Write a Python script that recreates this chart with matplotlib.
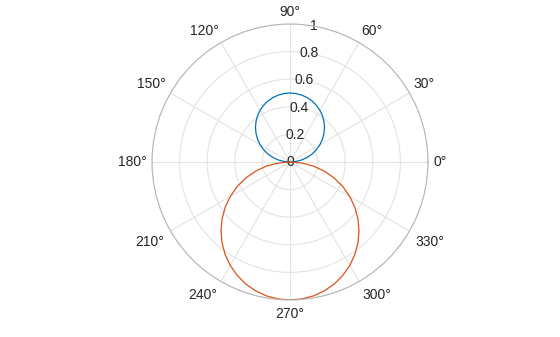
import numpy as np
import matplotlib
matplotlib.use("Agg")
import matplotlib.pyplot as plt

plt.rcParams['font.family'] = ['Liberation Sans', 'DejaVu Sans']

# sample angles in degrees, 5 degree steps (upper half and lower half)
theta_upper = [0, 5, 10, 15, 20, 25, 30, 35, 40, 45, 50, 55, 60, 65, 70, 75, 80, 85, 90,
               95, 100, 105, 110, 115, 120, 125, 130, 135, 140, 145, 150, 155, 160, 165,
               170, 175, 180]
r_upper = [0, 0.044, 0.087, 0.129, 0.171, 0.211, 0.25, 0.287, 0.321, 0.354, 0.383,
           0.410, 0.433, 0.453, 0.470, 0.483, 0.492, 0.498, 0.5,
           0.498, 0.492, 0.483, 0.470, 0.453, 0.433, 0.410, 0.383, 0.354, 0.321,
           0.287, 0.25, 0.211, 0.171, 0.129, 0.087, 0.044, 0]

theta_lower = [180, 185, 190, 195, 200, 205, 210, 215, 220, 225, 230, 235, 240, 245,
               250, 255, 260, 265, 270, 275, 280, 285, 290, 295, 300, 305, 310, 315,
               320, 325, 330, 335, 340, 345, 350, 355, 360]
r_lower = [0, 0.087, 0.174, 0.259, 0.342, 0.423, 0.5, 0.574, 0.643, 0.707, 0.766,
           0.819, 0.866, 0.906, 0.940, 0.966, 0.985, 0.996, 1.0,
           0.996, 0.985, 0.966, 0.940, 0.906, 0.866, 0.819, 0.766, 0.707, 0.643,
           0.574, 0.5, 0.423, 0.342, 0.259, 0.174, 0.087, 0]

r_ticks = [0, 0.2, 0.4, 0.6, 0.8, 1]
r_tick_labels = ['0', '0.2', '0.4', '0.6', '0.8', '1']
theta_ticks = list(range(0, 360, 30))

fig = plt.figure(figsize=(5.6, 3.37), dpi=100)
ax = fig.add_axes([(290 - 138) / 560, (337 - 300) / 337, 276 / 560, 276 / 337],
                  projection='polar')

ax.plot(np.deg2rad(theta_upper), r_upper, color='#0072BD', linewidth=0.9)
ax.plot(np.deg2rad(theta_lower), r_lower, color='#D95319', linewidth=0.9)

ax.set_ylim(0, 1)
ax.set_yticks(r_ticks)
ax.set_yticklabels(r_tick_labels, fontsize=10, color='#262626')
ax.set_rlabel_position(80)
for lbl in ax.get_yticklabels():
    lbl.set_horizontalalignment('center')
    lbl.set_verticalalignment('center')

# theta labels placed just outside the ring, aligned like MATLAB
ax.set_xticks(np.deg2rad(theta_ticks))
ax.set_xticklabels([])
for t in theta_ticks:
    a = np.deg2rad(t)
    c, s = np.cos(a), np.sin(a)
    ha = 'left' if c > 0.1 else ('right' if c < -0.1 else 'center')
    va = 'bottom' if s > 0.1 else ('top' if s < -0.1 else 'center')
    gap = 7 if s < -0.1 else 5
    ax.annotate(f'{t}°', xy=(a, 1), xytext=(gap * c, gap * s),
                textcoords='offset pixels', ha=ha, va=va,
                fontsize=10, color='#262626', annotation_clip=False)

ax.grid(True, color='#e3e3e3', linewidth=0.8)
ax.spines['polar'].set_color('#b5b5b5')
ax.spines['polar'].set_linewidth(0.8)

fig.savefig('out.png', dpi=100)
